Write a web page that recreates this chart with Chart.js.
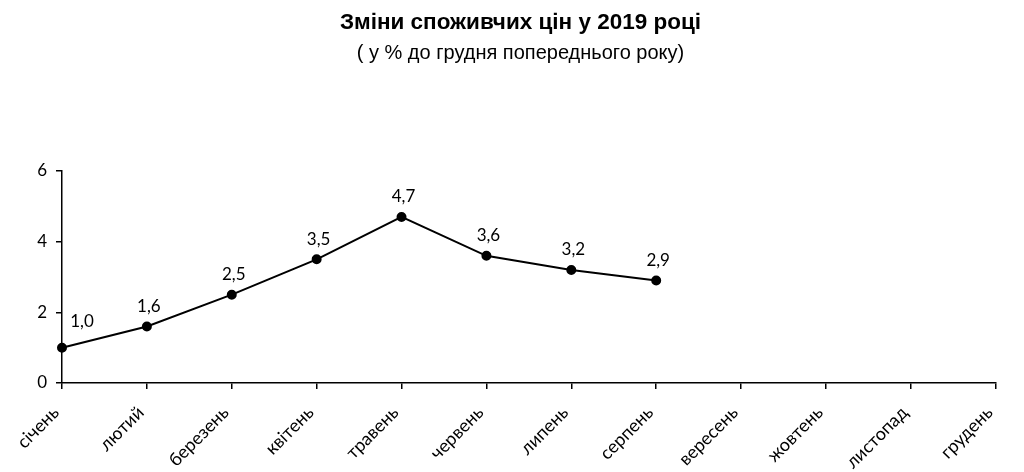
<!DOCTYPE html>
<html>
<head>
<meta charset="utf-8">
<script src="https://cdn.jsdelivr.net/npm/chart.js@4.4.1/dist/chart.umd.min.js"></script>
<style>
  html, body { margin: 0; padding: 0; background: #fff; }
  #wrap { width: 1024px; height: 472px; }
</style>
</head>
<body>
<div id="wrap"><canvas id="priceChart"></canvas></div>
<script>
// Зміни споживчих цін у 2019 році
const months = ["січень", "лютий", "березень", "квітень", "травень", "червень",
                "липень", "серпень", "вересень", "жовтень", "листопад", "грудень"];
const priceChange = [1.0, 1.6, 2.5, 3.5, 4.7, 3.6, 3.2, 2.9, null, null, null, null];

const pointLabels = {
    id: "pointLabels",
    afterLayout(chart) {
        // titles sit a little right of the canvas centre in the original
        chart.boxes.forEach(b => {
            if (b.position === "top" && !b.axis) { b.left += 7; b.right += 7; }
        });
    },
    afterDatasetsDraw(chart) {
        const ctx = chart.ctx;
        const meta = chart.getDatasetMeta(0);
        ctx.save();
        ctx.font = "17px Lato";
        ctx.fillStyle = "#000";
        ctx.textAlign = "center";
        ctx.textBaseline = "middle";
        meta.data.forEach((pt, i) => {
            const v = priceChange[i];
            if (v === null) return;
            const txt = v.toFixed(1).replace(".", ",");
            if (i === 0) ctx.fillText(txt, pt.x + 20, pt.y - 26);
            else ctx.fillText(txt, pt.x + 2, pt.y - 20);
        });
        ctx.restore();
    }
};

new Chart(document.getElementById("priceChart"), {
    type: "line",
    data: {
        labels: months,
        datasets: [{
            data: priceChange,
            borderColor: "#000",
            backgroundColor: "#000",
            borderWidth: 2,
            pointRadius: 4,
            pointHoverRadius: 4,
            tension: 0,
            spanGaps: false
        }]
    },
    options: {
        responsive: true,
        maintainAspectRatio: false,
        animation: false,
        layout: { padding: { left: 30, right: 27, top: 0, bottom: 0 } },
        plugins: {
            legend: { display: false },
            tooltip: { enabled: false },
            title: {
                display: true,
                text: "Зміни споживчих цін у 2019 році",
                color: "#000",
                font: { family: "Liberation Sans", size: 22.5, weight: "bold" },
                padding: { top: 9, bottom: 3 }
            },
            subtitle: {
                display: true,
                text: "( у % до грудня попереднього року)",
                color: "#000",
                font: { family: "Liberation Sans", size: 20 },
                padding: { top: 2, bottom: 106 }
            }
        },
        scales: {
            x: {
                offset: false,
                afterFit(scale) { scale.height = 89; },
                grid: { drawOnChartArea: false, drawTicks: true, tickLength: 6, color: "#000", lineWidth: 1.5 },
                border: { color: "#000", width: 1.5 },
                ticks: {
                    color: "#000",
                    font: { family: "Lato", size: 18 },
                    maxRotation: 45,
                    minRotation: 45,
                    autoSkip: false,
                    labelOffset: -6,
                    padding: 13
                }
            },
            y: {
                min: 0,
                max: 6,
                afterFit(scale) { scale.width = 32; },
                grid: { drawOnChartArea: false, drawTicks: true, tickLength: 6, color: "#000", lineWidth: 1.5 },
                border: { color: "#000", width: 1.5 },
                ticks: {
                    stepSize: 2,
                    color: "#000",
                    font: { family: "Lato", size: 17 },
                    padding: 9
                }
            }
        }
    },
    plugins: [pointLabels]
});
</script>
</body>
</html>
